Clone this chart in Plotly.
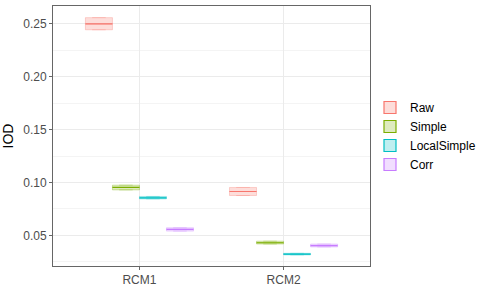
import plotly.graph_objects as go

categories = ["RCM1", "RCM2"]
series = ["Raw", "Simple", "LocalSimple", "Corr"]
colors = ["#F8766D", "#7CAE00", "#00BFC4", "#C77CFF"]
rgb = [(248, 118, 109), (124, 174, 0), (0, 191, 196), (199, 124, 255)]

q1 = {
    "Raw": [0.2445, 0.0877],
    "Simple": [0.0930, 0.0418],
    "LocalSimple": [0.0845, 0.0315],
    "Corr": [0.0540, 0.0390],
}
median = {
    "Raw": [0.2500, 0.0915],
    "Simple": [0.0953, 0.0430],
    "LocalSimple": [0.0855, 0.0322],
    "Corr": [0.0557, 0.0403],
}
q3 = {
    "Raw": [0.2560, 0.0953],
    "Simple": [0.0975, 0.0445],
    "LocalSimple": [0.0868, 0.0330],
    "Corr": [0.0572, 0.0418],
}

fig = go.Figure()
for name, col, (r, g, b) in zip(series, colors, rgb):
    fig.add_trace(go.Box(
        x=categories, q1=q1[name], median=median[name], q3=q3[name],
        lowerfence=q1[name], upperfence=q3[name],
        name=name, offsetgroup=name, legendgroup=name, showlegend=False,
        line=dict(color=f"rgba({r},{g},{b},0.3)", width=1),
        fillcolor=f"rgba({r},{g},{b},0.25)",
        hoverinfo="skip",
    ))
    fig.add_trace(go.Box(
        x=categories, q1=median[name], median=median[name], q3=median[name],
        lowerfence=median[name], upperfence=median[name],
        name=name, offsetgroup=name, legendgroup=name, showlegend=True,
        line=dict(color=col, width=1.2),
        fillcolor=f"rgba({r},{g},{b},0.25)",
    ))

fig.update_layout(
    width=498, height=291,
    margin=dict(l=53, r=128, t=6, b=25, autoexpand=False),
    paper_bgcolor="white", plot_bgcolor="white",
    boxmode="group", boxgap=0.25, boxgroupgap=0,
    font=dict(family="Liberation Sans, Arial, sans-serif", size=12, color="#4D4D4D"),
    showlegend=True,
    legend=dict(x=1.0, y=0.5, yanchor="middle", xanchor="left",
                font=dict(size=12, color="black"), tracegroupgap=0,
                itemwidth=30, bgcolor="rgba(0,0,0,0)"),
)
fig.update_xaxes(
    range=[-0.6, 1.6], showgrid=True, gridcolor="#EBEBEB", gridwidth=1,
    showline=True, linecolor="#666666", linewidth=1, mirror=True,
    ticks="outside", ticklen=3, tickcolor="#666666", automargin=False,
    tickfont=dict(size=12, color="#4D4D4D"), zeroline=False,
)
fig.update_yaxes(
    range=[0.021, 0.267], tickvals=[0.05, 0.10, 0.15, 0.20, 0.25],
    ticktext=["0.05", "0.10", "0.15", "0.20", "0.25"],
    showgrid=True, gridcolor="#EBEBEB", gridwidth=1,
    minor=dict(tickvals=[0.025, 0.075, 0.125, 0.175, 0.225], showgrid=True,
               gridcolor="#F4F4F4", gridwidth=1),
    showline=True, linecolor="#666666", linewidth=1, mirror=True,
    ticks="outside", ticklen=3, tickcolor="#666666", automargin=False,
    tickfont=dict(size=12, color="#4D4D4D"), zeroline=False,
    title=dict(text="IOD", font=dict(size=14, color="black"), standoff=6),
)
fig.write_html("out.html", config={"displayModeBar": False},
               post_script="document.body.style.margin='0';")
